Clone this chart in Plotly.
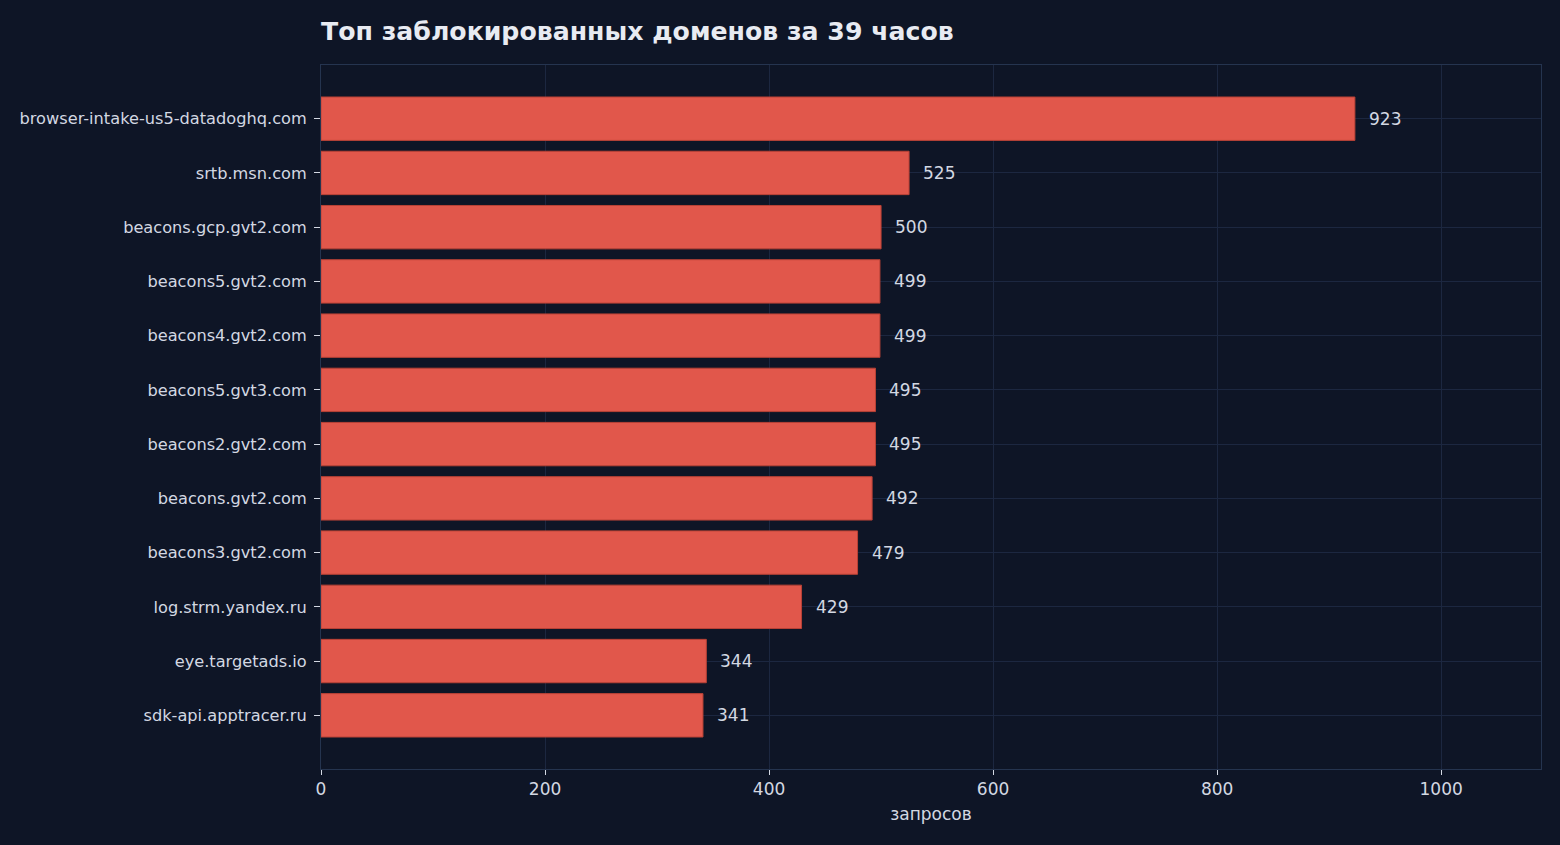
import plotly.graph_objects as go

domains = [
    "browser-intake-us5-datadoghq.com", "srtb.msn.com", "beacons.gcp.gvt2.com",
    "beacons5.gvt2.com", "beacons4.gvt2.com", "beacons5.gvt3.com",
    "beacons2.gvt2.com", "beacons.gvt2.com", "beacons3.gvt2.com",
    "log.strm.yandex.ru", "eye.targetads.io", "sdk-api.apptracer.ru",
]
counts = [923, 525, 500, 499, 499, 495, 495, 492, 479, 429, 344, 341]
title_text = "Топ заблокированных доменов за 39 часов"
x_title = "запросов"

BG = "#0e1526"
GRID = "#1c2740"
SPINE = "#25344f"
TXT = "#d3d8e2"
BAR = "#e1574b"

n = len(domains)
ypos = list(range(n))

fig = go.Figure()
fig.add_trace(go.Bar(
    x=counts, y=ypos, orientation="h", width=0.8,
    marker=dict(color=BAR, line=dict(color="#b94236", width=1)),
    hoverinfo="x+y",
))
for i, v in enumerate(counts):
    fig.add_annotation(x=v, y=i, text=str(v), showarrow=False, xanchor="left",
                       xshift=12, font=dict(size=17, color=TXT,
                                            family="DejaVu Sans"))

fig.update_layout(
    width=1560, height=845,
    paper_bgcolor=BG, plot_bgcolor=BG,
    margin=dict(l=321, r=19, t=65, b=76),
    showlegend=False,
    font=dict(family="DejaVu Sans", color=TXT),
    title=dict(text="<b>" + title_text + "</b>", x=321 / 1560, xanchor="left",
               xref="container", y=1 - 31 / 845, yanchor="middle",
               yref="container", font=dict(size=25.2, color="#e8ebf2",
                                           family="DejaVu Sans")),
)
fig.update_xaxes(
    range=[0, 923 * 1.18], tickvals=[0, 200, 400, 600, 800, 1000],
    showgrid=True, gridcolor=GRID, gridwidth=1, zeroline=False,
    showline=True, linecolor=SPINE, linewidth=1, mirror=True,
    ticks="outside", ticklen=5, tickcolor=TXT, tickwidth=1,
    tickfont=dict(size=17, color=TXT),
    title=dict(text=x_title, font=dict(size=17, color=TXT), standoff=9),
)
fig.update_yaxes(
    range=[n - 1 + 0.99, -0.99], tickvals=ypos, ticktext=domains,
    showgrid=True, gridcolor=GRID, gridwidth=1, zeroline=False,
    showline=True, linecolor=SPINE, linewidth=1, mirror=True,
    ticks="outside", ticklen=6, tickcolor=TXT, tickwidth=1,
    ticklabelstandoff=4,
    tickfont=dict(size=16.2, color=TXT),
)

fig.write_html("out.html")
